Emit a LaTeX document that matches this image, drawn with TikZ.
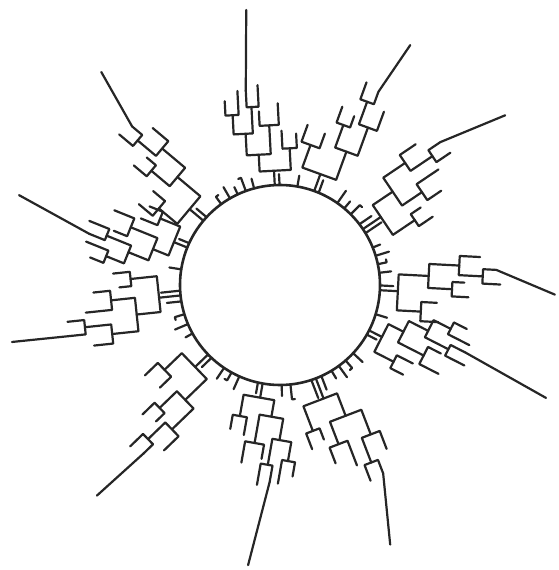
\documentclass[tikz,border=0pt]{standalone}
\usetikzlibrary{calc}

\tikzset{branch/.style={line width=2.2pt,line cap=round,line join=round,draw=black!85}}

% arm variants, local frame: x = distance from the circle, y = sideways
\newcommand\armA{%
  \draw (0,0) -- (15,0);
  \draw (0,4) -- (11,4);
  \draw (35,-16) -- (15,-16) -- (15,14) -- (40,14);
  \draw (50,-24) -- (35,-24) -- (35,-8) -- (48,-8);
  \draw (60,4) -- (40,4) -- (40,24) -- (65,24);
  \draw (74,-2) -- (60,-2) -- (60,10) -- (70,10);
  \draw (85,16) -- (65,16) -- (65,32) -- (82,32);
  \draw (100,10) -- (85,10) -- (85,22) -- (96,22);
  \coordinate (ls) at (96,22);}
\newcommand\armB{%
  \draw (0,0) -- (12,0);
  \draw (0,-4) -- (9,-4);
  \draw (30,-14) -- (12,-14) -- (12,12) -- (26,12);
  \draw (42,-20) -- (30,-20) -- (30,-8) -- (45,-8);
  \draw (50,2) -- (26,2) -- (26,22) -- (44,22);
  \draw (68,-6) -- (50,-6) -- (50,10) -- (62,10);
  \draw (66,16) -- (44,16) -- (44,32) -- (60,32);
  \draw (84,10) -- (66,10) -- (66,20) -- (80,20);
  \draw (80,27) -- (60,27) -- (60,38) -- (72,38);
  \coordinate (ls) at (80,20);}
\newcommand\armC{%
  \draw (0,0) -- (18,0);
  \draw (0,-4) -- (16,-4);
  \draw (0,5) -- (12,5);
  \draw (40,-18) -- (18,-18) -- (18,12) -- (38,12);
  \draw (54,-24) -- (40,-24) -- (40,-12) -- (50,-12);
  \draw (58,-2) -- (38,-2) -- (38,26) -- (60,26);
  \draw (72,-10) -- (58,-10) -- (58,6) -- (80,6);
  \draw (82,18) -- (60,18) -- (60,34) -- (76,34);
  \draw (96,12) -- (82,12) -- (82,24) -- (94,24);
  \coordinate (ls) at (94,24);}

% axis angle, variant, side, tip of the long branch
\newcommand\arm[4]{%
  \begin{scope}[rotate=#1,shift={(100,0)},scale=1.2,yscale=#3]
    #2
  \end{scope}
  \draw (ls) -- (#4);}

\begin{document}
\begin{tikzpicture}[x=1pt,y=1pt,branch]
  \useasboundingbox (-280,-285) rectangle (279,285);
  \coordinate (c) at (0,0);
  \draw[line width=2.6pt] (c) circle (100);

  % short twigs on the ring
  \foreach \a/\l/\h in {7/12/0,12/9/3,17/14/0,22/8/0,45/13/-3,50/9/0,55/15/0,
      80/11/0,105/10/0,110/14/3,115/8/0,120/13/0,126/9/-3,171/12/0,197/10/3,
      203/14/0,209/8/0,236/13/0,241/9/-3,246/14/0,271/11/0,276/15/3,301/9/0,
      306/14/0,311/10/-3,317/13/0,343/12/0}
    \draw[rotate=\a] (100,0) -- (100+\l,0) -- ++(0,\h);

  % the arms
  \arm{93}{\armB}{1}{97:277}
  \arm{70}{\armA}{-1}{61.5:273}
  \arm{34}{\armC}{1}{37:282}
  \arm{-3}{\armA}{1}{-2:275}
  \arm{-27}{\armB}{1}{-23:289}
  \arm{-69}{\armC}{1}{-67:282}
  \arm{-100}{\armB}{1}{-96.5:282}
  \arm{-136}{\armA}{1}{-131:279}
  \arm{-174}{\armC}{1}{-168:274}
  \arm{158}{\armB}{1}{161:276}
  \arm{140}{\armA}{-1}{130:278}
\end{tikzpicture}
\end{document}
